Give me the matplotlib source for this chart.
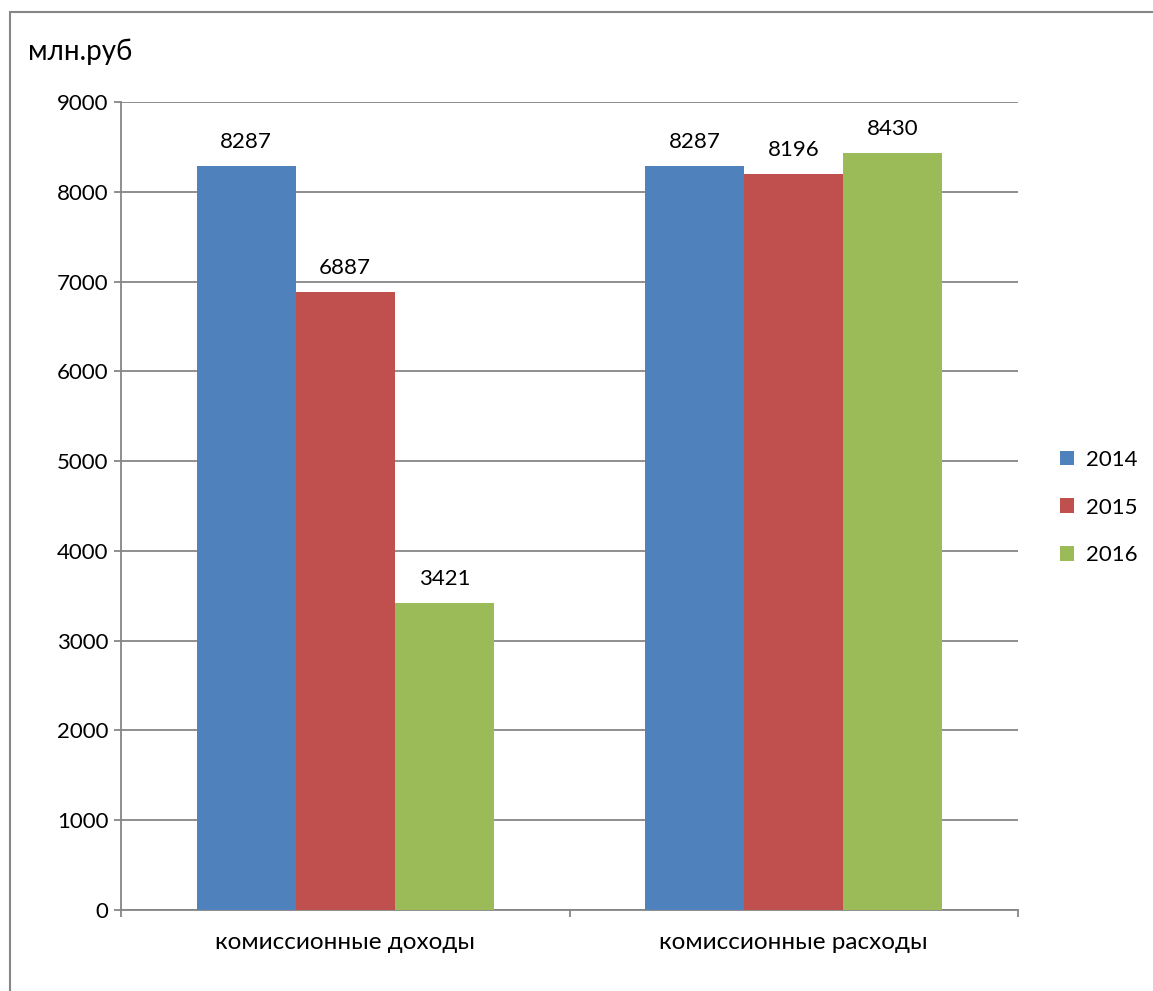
import matplotlib.pyplot as plt
from matplotlib.patches import Rectangle
import numpy as np

categories = ['комиссионные доходы', 'комиссионные расходы']
years = ['2014', '2015', '2016']
values_2014 = [8287, 8287]
values_2015 = [6887, 8196]
values_2016 = [3421, 8430]
colors = ['#4f81bd', '#c0504d', '#9bbb59']

plt.rcParams['font.family'] = ['Lato', 'DejaVu Sans']

fig = plt.figure(figsize=(11.53, 9.91), dpi=100)
# outer frame of the chart area, running off the right and bottom edges
fig.patches.append(Rectangle((10 / 1153, -0.1), 1.2, 1 - 12 / 991 + 0.1,
                             transform=fig.transFigure, fill=False,
                             edgecolor='#868686', linewidth=1.5))

ax = fig.add_axes([121 / 1153, 1 - 910 / 991, 897 / 1153, 808 / 991])

x = np.arange(len(categories))
width = 0.221
series = [values_2014, values_2015, values_2016]
for i, vals in enumerate(series):
    bars = ax.bar(x + (i - 1) * width, vals, width, color=colors[i], label=years[i], zorder=3)
    for b, v in zip(bars, vals):
        ax.annotate(str(v), (b.get_x() + b.get_width() / 2, v), xytext=(0, 10),
                    textcoords='offset points', ha='center', va='bottom', fontsize=16)

ax.set_xlim(-0.5, 1.5)
ax.set_ylim(0, 9000)
ax.set_yticks(range(0, 9001, 1000))
ax.yaxis.grid(True, color='#868686', linewidth=1.3, zorder=0)
ax.tick_params(axis='y', labelsize=16, length=5, width=1.3, color='#868686', pad=4)

ax.set_xticks([-0.5, 0.5, 1.5])
ax.set_xticklabels([])
ax.set_xticks(x, minor=True)
ax.set_xticklabels(categories, minor=True)
ax.tick_params(axis='x', which='major', length=5, width=1.3, color='#868686', direction='out')
ax.tick_params(axis='x', which='minor', length=0, labelsize=17.5, pad=16)

for side in ['top', 'right']:
    ax.spines[side].set_visible(False)
for side in ['left', 'bottom']:
    ax.spines[side].set_color('#868686')
    ax.spines[side].set_linewidth(1.3)

fig.text(28 / 1153, 1 - 52 / 991, 'млн.руб', fontsize=20, va='center', ha='left')

ax.legend(loc='center left', bbox_to_anchor=(1.024, 0.498), frameon=False,
          fontsize=16, handlelength=0.65, handleheight=0.65, labelspacing=1.25,
          handletextpad=0.55)

fig.savefig('out.png', dpi=100)
